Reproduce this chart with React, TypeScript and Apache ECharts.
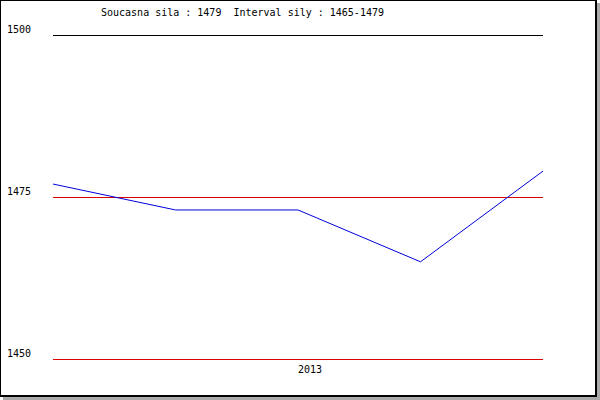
import React, { useEffect, useRef } from "react";
import * as echarts from "echarts";

const categories = ["", "", "2013", "", ""];
const strength = [1477, 1473, 1473, 1465, 1479];
const yMin = 1450;
const yMax = 1500;
const yStep = 25;
const titleText = "Soucasna sila : 1479  Interval sily : 1465-1479";

export default function App() {
  const ref = useRef<HTMLDivElement>(null);
  useEffect(() => {
    if (!ref.current) return;
    const chart = echarts.init(ref.current, null, { renderer: "svg" });
    const font = "'DejaVu Sans Mono', monospace";
    chart.setOption({
      animation: false,
      title: {
        text: titleText,
        left: 101,
        top: 7,
        padding: 0,
        textStyle: { fontFamily: font, fontSize: 10, fontWeight: "normal", color: "#000" },
      },
      grid: { left: 53, right: 57, top: 35, bottom: 41 },
      xAxis: {
        type: "category",
        data: categories,
        boundaryGap: false,
        axisLine: { show: false },
        axisTick: { show: false },
        splitLine: { show: false },
        axisLabel: {
          interval: 0,
          align: "left",
          margin: 5,
          fontFamily: font,
          fontSize: 10,
          color: "#000",
        },
      },
      yAxis: {
        type: "value",
        min: yMin,
        max: yMax,
        interval: yStep,
        axisLine: { show: false },
        axisTick: { show: false },
        splitLine: {
          show: true,
          lineStyle: { color: ["#dd0000", "#dd0000", "#000000"], width: 1 },
        },
        axisLabel: {
          align: "left",
          verticalAlign: "bottom",
          margin: 46,
          fontFamily: font,
          fontSize: 10,
          color: "#000",
          padding: [0, 0, 1, 0],
          formatter: (v: number) => String(v),
        },
      },
      series: [
        {
          type: "line",
          data: strength,
          symbol: "none",
          lineStyle: { color: "#0000dd", width: 1 },
        },
      ],
    });
    return () => chart.dispose();
  }, []);
  return (
    <div style={{ position: "fixed", left: 0, top: 0, width: 600, height: 400, background: "#fff" }}>
      <div
        style={{
          position: "absolute",
          left: 0,
          top: 0,
          width: 597,
          height: 397,
          boxSizing: "border-box",
          border: "2px solid #000",
          borderTopWidth: 1,
          borderLeftWidth: 1,
          boxShadow: "3px 3px 0 #aaaaaa",
        }}
      />
      <div ref={ref} style={{ position: "absolute", left: 0, top: 0, width: 600, height: 400 }} />
    </div>
  );
}
